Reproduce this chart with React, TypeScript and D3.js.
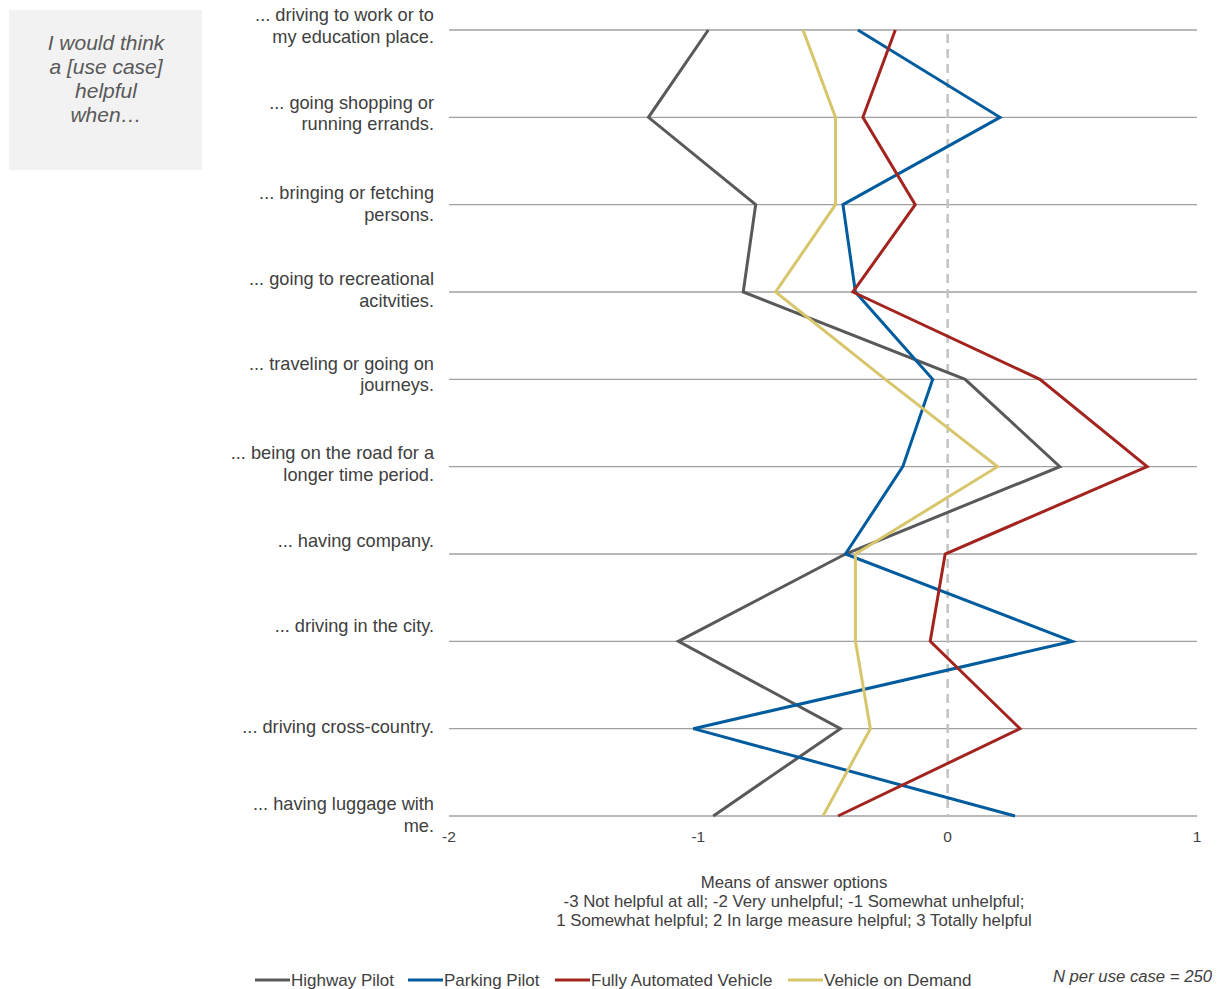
import React from "react"
import * as d3 from "d3"

// use cases (top to bottom), split into label lines
const useCases: string[][] = [
  ["... driving to work or to", "my education place."],
  ["... going shopping or", "running errands."],
  ["... bringing or fetching", "persons."],
  ["... going to recreational", "acitvities."],
  ["... traveling or going on", "journeys."],
  ["... being on the road for a", "longer time period."],
  ["... having company."],
  ["... driving in the city."],
  ["... driving cross-country."],
  ["... having luggage with", "me."],
]

const highwayPilot = [-0.96, -1.2, -0.77, -0.82, 0.07, 0.45, -0.41, -1.08, -0.43, -0.94]
const parkingPilot = [-0.36, 0.21, -0.42, -0.37, -0.06, -0.18, -0.41, 0.5, -1.02, 0.27]
const fullyAutomated = [-0.21, -0.34, -0.13, -0.38, 0.37, 0.8, -0.01, -0.07, 0.29, -0.44]
const vehicleOnDemand = [-0.58, -0.45, -0.45, -0.69, -0.25, 0.2, -0.37, -0.37, -0.31, -0.5]

const seriesNames = ["Highway Pilot", "Parking Pilot", "Fully Automated Vehicle", "Vehicle on Demand"]
const seriesColors = ["#595959", "#005c9e", "#a3241f", "#d7c66b"]
const seriesValues = [highwayPilot, parkingPilot, fullyAutomated, vehicleOnDemand]

const xTicks = [-2, -1, 0, 1]

const axisTitle = [
  "Means of answer options",
  "-3 Not helpful at all; -2 Very unhelpful; -1 Somewhat unhelpful;",
  "1 Somewhat helpful; 2 In large measure helpful; 3 Totally helpful",
]
const boxText = ["I would think", "a [use case]", "helpful", "when…"]
const footnote = "N per use case = 250"

// vertical shift of the first label line against its gridline (Excel layout)
const labelShift = [-15, -15, -12, -13, -16, -14, -13, -16, -2, -12]
const legendX = [255, 408, 555, 788]

const FONT = "'Liberation Sans', Arial, sans-serif"
const TEXT = "#404040"

export default function App() {
  const width = 1223
  const height = 989

  const x = d3.scaleLinear().domain([-2, 1]).range([449, 1197])
  const y = d3
    .scalePoint<number>()
    .domain(d3.range(useCases.length))
    .range([30, 816])

  const line = d3
    .line<number>()
    .x((d) => x(d))
    .y((_, i) => y(i) as number)

  return (
    <svg
      width={width}
      height={height}
      style={{ position: "absolute", left: 0, top: 0, fontFamily: FONT }}
    >
      <rect x={0} y={0} width={width} height={height} fill="#ffffff" />

      {/* intro box */}
      <rect x={9} y={10} width={193} height={160} fill="#f2f2f2" />
      {boxText.map((t, i) => (
        <text
          key={t}
          x={106}
          y={43 + i * 24}
          dy="0.35em"
          textAnchor="middle"
          fontSize={21}
          fontStyle="italic"
          fill="#595959"
        >
          {t}
        </text>
      ))}

      {/* gridlines */}
      {useCases.map((_, i) => (
        <line
          key={i}
          x1={x(-2)}
          x2={x(1)}
          y1={y(i)}
          y2={y(i)}
          stroke="#a0a0a0"
          strokeWidth={1.3}
        />
      ))}

      {/* zero reference */}
      <line
        x1={x(0)}
        x2={x(0)}
        y1={34}
        y2={y(useCases.length - 1)}
        stroke="#c3c3c3"
        strokeWidth={2.5}
        strokeDasharray="9,6"
      />

      {/* category labels */}
      {useCases.map((lines, i) =>
        lines.map((t, j) => (
          <text
            key={`${i}-${j}`}
            x={434}
            y={(y(i) as number) + labelShift[i] + j * 21.5}
            dy="0.35em"
            textAnchor="end"
            fontSize={18.2}
            fill={TEXT}
          >
            {t}
          </text>
        ))
      )}

      {/* x tick labels */}
      {xTicks.map((t) => (
        <text
          key={t}
          x={x(t)}
          y={837}
          dy="0.35em"
          textAnchor="middle"
          fontSize={15.5}
          fill={TEXT}
        >
          {t}
        </text>
      ))}

      {/* series */}
      {seriesValues.map((vals, s) => (
        <path
          key={seriesNames[s]}
          d={line(vals) || ""}
          fill="none"
          stroke={seriesColors[s]}
          strokeWidth={3}
          strokeLinejoin="miter"
        />
      ))}

      {/* axis title */}
      {axisTitle.map((t, i) => (
        <text
          key={t}
          x={794}
          y={882 + i * 19}
          dy="0.35em"
          textAnchor="middle"
          fontSize={16.8}
          fill={TEXT}
        >
          {t}
        </text>
      ))}

      {/* legend */}
      {seriesNames.map((n, s) => (
        <g key={n} transform={`translate(${legendX[s]},980)`}>
          <line x1={0} x2={35} y1={0} y2={0} stroke={seriesColors[s]} strokeWidth={3} />
          <text x={36} y={0} dy="0.35em" fontSize={17} fill={TEXT}>
            {n}
          </text>
        </g>
      ))}

      <text
        x={1212}
        y={976}
        dy="0.35em"
        textAnchor="end"
        fontSize={16.7}
        fontStyle="italic"
        fill={TEXT}
      >
        {footnote}
      </text>
    </svg>
  )
}
